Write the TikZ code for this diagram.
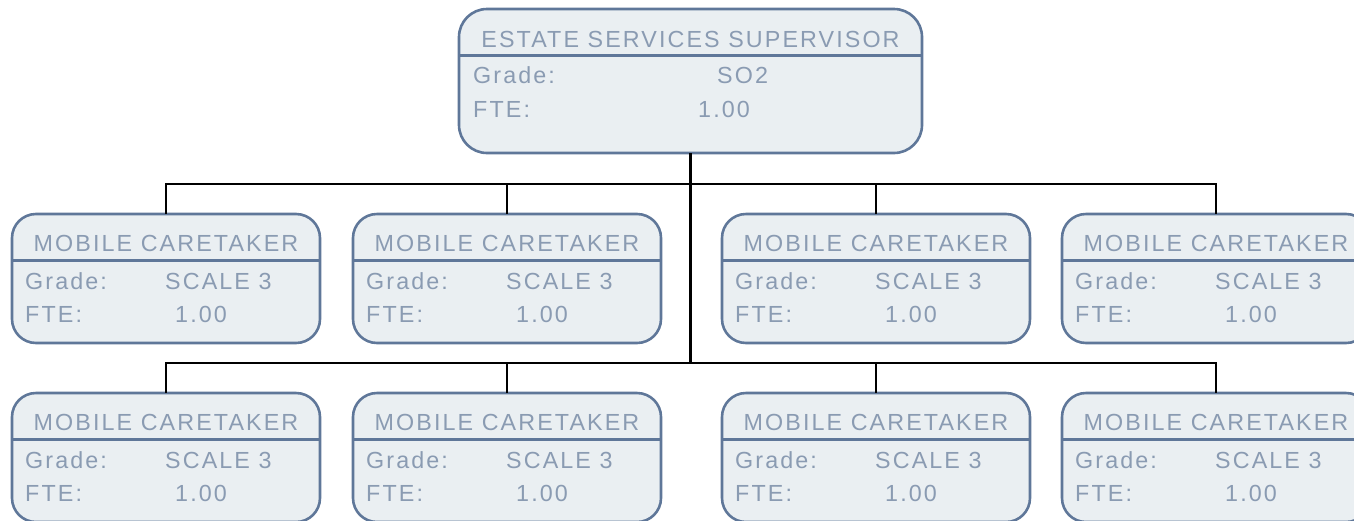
\documentclass[tikz,border=0pt]{standalone}
\usepackage{fontspec}
\setmainfont{Liberation Sans}[LetterSpace=9]
\usepackage{tikz}
\usetikzlibrary{calc}
\definecolor{cardline}{HTML}{5F7799}
\definecolor{cardfill}{HTML}{EAEFF2}
\definecolor{cardtext}{HTML}{8A9BB2}
\tikzset{
	card/.style={draw=cardline, fill=cardfill, line width=2.6pt, rounded corners=24pt, inner sep=0pt, outer sep=0pt, anchor=north west},
	cardtxt/.style={text=cardtext, font=\fontsize{23.3}{28}\selectfont, inner sep=0pt, anchor=base west},
	link/.style={line width=2.6pt, color=black}
}
% one job card: name, top left corner, title, grade, fte
\def\jobcard(#1)(#2,#3)[#4:#5:#6]{
	\node[card, minimum width=308pt, minimum height=129pt] (#1) at (#2,#3) {};
	\draw[line width=2.6pt, color=cardline] ($(#1.north west)+(0,46.5)$) -- ($(#1.north east)+(0,46.5)$);
	\node[cardtxt, anchor=base] at ($(#1.north)+(0,37)$) {#4};
	\node[cardtxt] at ($(#1.north west)+(13,75)$) {Grade:};
	\node[cardtxt] at ($(#1.north west)+(153,75)$) {#5};
	\node[cardtxt] at ($(#1.north west)+(13,108)$) {FTE:};
	\node[cardtxt] at ($(#1.north west)+(163,108)$) {#6};
}

\begin{document}
\begin{tikzpicture}[x=1pt, y=-1pt]
		%%%%% START %%%%%
		
		\useasboundingbox (0, 0) rectangle (1354, 520);
		
		\node[card, rounded corners=28pt, minimum width=463pt, minimum height=144pt] (super) at (459, 9) {};
		\draw[line width=2.6pt, color=cardline] ($(super.north west)+(0,46.5)$) -- ($(super.north east)+(0,46.5)$);
		\node[cardtxt, anchor=base] at ($(super.north)+(0,38)$) {ESTATE SERVICES SUPERVISOR};
		\node[cardtxt] at ($(super.north west)+(14,74)$) {Grade:};
		\node[cardtxt] at ($(super.north west)+(258,74)$) {SO2};
		\node[cardtxt] at ($(super.north west)+(14,108)$) {FTE:};
		\node[cardtxt] at ($(super.north west)+(239,108)$) {1.00};
		
		\jobcard(mc1)(12, 214)[MOBILE CARETAKER:SCALE 3:1.00]
		\jobcard(mc2)(353, 214)[MOBILE CARETAKER:SCALE 3:1.00]
		\jobcard(mc3)(722, 214)[MOBILE CARETAKER:SCALE 3:1.00]
		\jobcard(mc4)(1062, 214)[MOBILE CARETAKER:SCALE 3:1.00]
		
		\jobcard(mc5)(12, 393)[MOBILE CARETAKER:SCALE 3:1.00]
		\jobcard(mc6)(353, 393)[MOBILE CARETAKER:SCALE 3:1.00]
		\jobcard(mc7)(722, 393)[MOBILE CARETAKER:SCALE 3:1.00]
		\jobcard(mc8)(1062, 393)[MOBILE CARETAKER:SCALE 3:1.00]
		
		\coordinate (busA) at (super.south |- 0, 184);
		\coordinate (busB) at (super.south |- 0, 363);
		
		\draw[link] (super.south) -- (busA) -- (busB);
		\draw[link] (mc1.north) |- (busA) -| (mc4.north);
		\draw[link] (mc2.north) -- (mc2.north |- busA);
		\draw[link] (mc3.north) -- (mc3.north |- busA);
		\draw[link] (mc5.north) |- (busB) -| (mc8.north);
		\draw[link] (mc6.north) -- (mc6.north |- busB);
		\draw[link] (mc7.north) -- (mc7.north |- busB);
		
		%%%%% END %%%%%
	\end{tikzpicture}
\end{document}
